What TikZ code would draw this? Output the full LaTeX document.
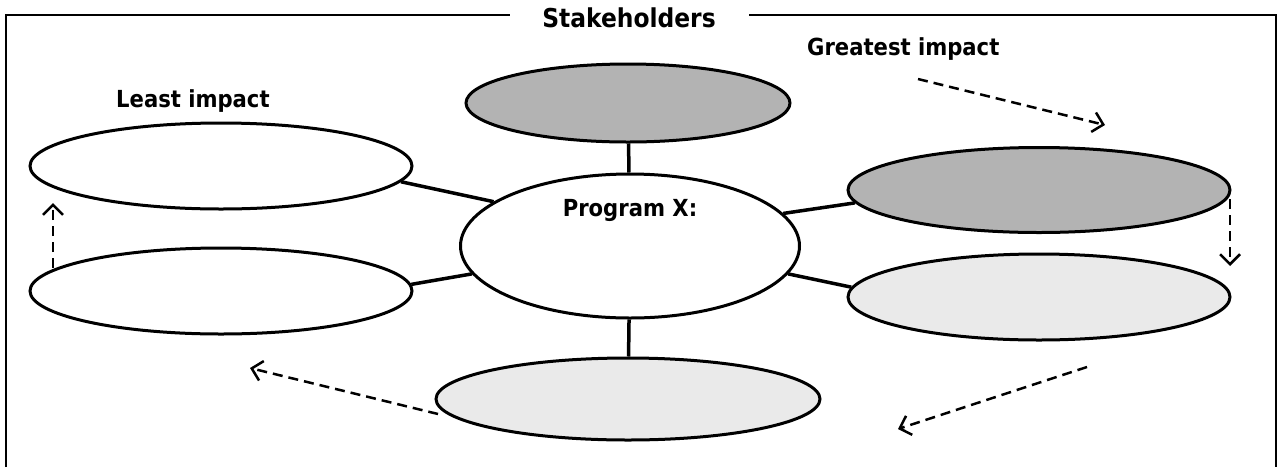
\documentclass[tikz,border=0pt]{standalone}
\usepackage{fontspec}
\setmainfont{DejaVu Sans Condensed}
\usetikzlibrary{shapes.geometric,arrows.meta}
\definecolor{darkfill}{HTML}{B3B3B3}
\definecolor{lightfill}{HTML}{EAEAEA}
\tikzset{
  oval/.style={ellipse, draw=black, line width=3pt, inner sep=0pt},
  bigoval/.style={oval, minimum width=382pt, minimum height=86pt},
  link/.style={line width=3.5pt},
  flow/.style={line width=2.5pt, dash pattern=on 10pt off 6pt, -{Straight Barb[length=10pt,width=20pt,line width=2.5pt]}},
  ttl/.style={font=\bfseries\fontsize{26}{30}\selectfont, inner sep=0pt},
  lbl/.style={font=\bfseries\fontsize{23.5}{28}\selectfont, inner sep=0pt},
  frame/.style={line width=2.5pt}
}
\begin{document}
\begin{tikzpicture}[x=1pt,y=-1pt]
\useasboundingbox (0,0) rectangle (1278,467);
% frame
\node[ttl] (title) at (629,18) {Stakeholders};
\coordinate (fl) at (6,467);
\coordinate (ftl) at (6,15);
\coordinate (ftg1) at (510,15);
\coordinate (ftg2) at (749,15);
\coordinate (ftr) at (1276,15);
\coordinate (fr) at (1276,467);
\draw[frame] (fl) -- (ftl) -- (ftg1);
\draw[frame] (ftg2) -- (ftr) -- (fr);
% ellipses
\node[oval, fill=white, minimum width=339pt, minimum height=144pt] (c) at (630,246) {};
\node[oval, fill=darkfill, minimum width=324pt, minimum height=78pt] (t) at (628,103) {};
\node[bigoval, fill=white] (lt) at (221,166) {};
\node[bigoval, fill=white] (lb) at (221,291) {};
\node[bigoval, fill=darkfill, minimum height=85pt] (rt) at (1039,190) {};
\node[bigoval, fill=lightfill] (rb) at (1039,297) {};
\node[oval, fill=lightfill, minimum width=384pt, minimum height=82pt] (b) at (628,399) {};
% connectors
\draw[link] (c) -- (t);
\draw[link] (c) -- (b);
\draw[link] (c.162) -- (lt.-5);
\draw[link] (c.190) -- (lb.2);
\draw[link] (c.12) -- (rt.184);
\draw[link] (c.-10) -- (rb.177);
% labels
\node[lbl] (px) at (630,210) {Program X:};
\node[lbl, anchor=west] (least) at (116,101) {Least impact};
\node[lbl, anchor=west] (great) at (807,49) {Greatest impact};
% flow arrows
\coordinate (a1s) at (918,79);
\coordinate (a1e) at (1105,125);
\coordinate (a2s) at (1230,199);
\coordinate (a2e) at (1230,266);
\coordinate (a3s) at (1087,367);
\coordinate (a3e) at (898,429);
\coordinate (a4s) at (438,414);
\coordinate (a4e) at (250,368);
\coordinate (a5s) at (53,268);
\coordinate (a5e) at (53,203);
\draw[flow] (a1s) -- (a1e);
\draw[flow] (a2s) -- (a2e);
\draw[flow] (a3s) -- (a3e);
\draw[flow] (a4s) -- (a4e);
\draw[flow] (a5s) -- (a5e);
\end{tikzpicture}
\end{document}
